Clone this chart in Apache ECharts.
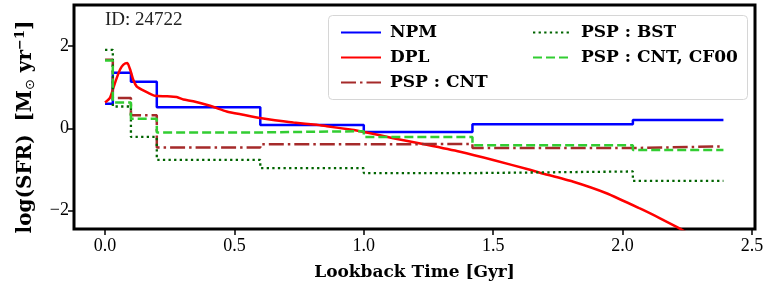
<!DOCTYPE html>
<html>
<head>
<meta charset="utf-8">
<script src="https://cdn.jsdelivr.net/npm/echarts@6/dist/echarts.min.js"></script>
<style>html,body{margin:0;padding:0;background:#fff}#c{width:773px;height:292px}</style>
</head>
<body>
<div id="c"></div>
<script>
// Bin edges (Gyr) for the step-like SFHs
const binEdges = [0, 0.03, 0.1, 0.2, 0.6, 1.0, 1.42, 2.04, 2.39];
const npmVals  = [0.60, 1.35, 1.13, 0.51, 0.08, -0.09, 0.10, 0.20];
const cntVals  = [1.67, 0.74, 0.32, -0.47, -0.39, -0.38, -0.48, -0.44];
const bstVals  = [1.91, 0.53, -0.21, -0.77, -0.97, -1.09, -1.05, -1.28];
const cf00Vals = [1.65, 0.63, 0.23, -0.10, -0.07, -0.21, -0.41, -0.53];
// DPL continuous curve
const dplT = [0, 0.019, 0.032, 0.045, 0.058, 0.071, 0.086, 0.097, 0.109, 0.122, 0.142, 0.167, 0.193, 0.238, 0.277, 0.303, 0.341, 0.406, 0.432, 0.47, 0.534, 0.599, 0.689, 0.728, 0.818, 0.857, 0.947, 0.985, 1.011, 1.114, 1.243, 1.372, 1.5, 1.642, 1.681, 1.81, 1.938, 2.067, 2.145, 2.209, 2.25, 2.3];
const dplV = [0.63, 0.74, 0.98, 1.22, 1.43, 1.55, 1.59, 1.43, 1.18, 1.02, 0.94, 0.86, 0.79, 0.78, 0.76, 0.70, 0.66, 0.55, 0.49, 0.41, 0.33, 0.25, 0.17, 0.14, 0.085, 0.05, -0.03, -0.07, -0.10, -0.24, -0.40, -0.57, -0.77, -1.01, -1.08, -1.30, -1.58, -1.95, -2.19, -2.40, -2.55, -2.8];
const xTicks = [0, 0.5, 1.0, 1.5, 2.0, 2.5];
const yTicks = [-2, 0, 2];
const seriesNames = ['NPM', 'DPL', 'PSP : CNT', 'PSP : BST', 'PSP : CNT, CF00'];

function stepData(vals) {
  const d = vals.map((v, i) => [binEdges[i], v]);
  d.push([binEdges[binEdges.length - 1], vals[vals.length - 1]]);
  return d;
}
const dplData = dplT.map((t, i) => [t, dplV[i]]);

const FONT = 'Liberation Serif';
const BFONT = 'DejaVu Serif';
const chart = echarts.init(document.getElementById('c'), null, {renderer: 'canvas'});
const lineBase = {type: 'line', symbol: 'none', showSymbol: false, animation: false, clip: true};
const legendText = {fontFamily: BFONT, fontSize: 17, fontWeight: 'bold', color: '#000'};

chart.setOption({
  animation: false,
  grid: {left: 74, top: 5, right: 18, bottom: 63, show: true, borderColor: '#000', borderWidth: 3, backgroundColor: 'transparent'},
  xAxis: {
    type: 'value', min: -0.12, max: 2.512,
    name: 'Lookback Time [Gyr]', nameLocation: 'middle', nameGap: 35,
    nameTextStyle: {fontFamily: BFONT, fontSize: 17, fontWeight: 'bold', color: '#000'},
    axisLine: {show: false, onZero: false},
    splitLine: {show: false},
    axisTick: {show: true, length: 6, customValues: xTicks, lineStyle: {color: '#000', width: 1.5}},
    axisLabel: {customValues: xTicks, margin: 8, fontFamily: FONT, fontSize: 18, color: '#000', formatter: v => v.toFixed(1)}
  },
  yAxis: {
    type: 'value', min: -2.45, max: 3.0,
    name: '{b|log(SFR)}  {b|[M}{sub|⊙}{b| yr}{sup|−1}{b|]}', nameLocation: 'middle', nameGap: 36, nameRotate: 90,
    nameTextStyle: {
      fontFamily: BFONT, fontSize: 20, color: '#000', padding: [0, 20, 0, 0],
      rich: {
        b: {fontFamily: BFONT, fontSize: 20, fontWeight: 'bold', color: '#000'},
        sub: {fontFamily: 'DejaVu Sans', fontSize: 13, color: '#000', padding: [9, 0, 0, 0]},
        sup: {fontFamily: BFONT, fontSize: 13, fontWeight: 'bold', color: '#000', padding: [0, 0, 11, 0]}
      }
    },
    axisLine: {show: false, onZero: false},
    splitLine: {show: false},
    axisTick: {show: true, length: 6, customValues: yTicks, lineStyle: {color: '#000', width: 1.5}},
    axisLabel: {customValues: yTicks, margin: 5, fontFamily: FONT, fontSize: 18, color: '#000', formatter: v => (v < 0 ? '\u2212' + Math.abs(v) : String(v))}
  },
  legend: [
    {
      orient: 'vertical', left: 335, top: 19, itemWidth: 40, itemHeight: 12, itemGap: 8,
      data: [seriesNames[0], seriesNames[1], seriesNames[2]],
      itemStyle: {opacity: 0},
      textStyle: Object.assign({padding: [0, 0, 0, 4]}, legendText)
    },
    {
      orient: 'vertical', left: 527, top: 19, itemWidth: 36, itemHeight: 12, itemGap: 8,
      data: [seriesNames[3], seriesNames[4]],
      itemStyle: {opacity: 0},
      textStyle: Object.assign({padding: [0, 0, 0, 7]}, legendText)
    }
  ],
  graphic: [
    {type: 'rect', left: 328, top: 15, shape: {width: 419, height: 84, r: 4}, style: {fill: 'rgba(255,255,255,0.8)', stroke: '#d6d6d6', lineWidth: 1}, z: 1},
    {type: 'text', left: 105, top: 11, style: {text: 'ID: 24722', font: '19px "Liberation Serif"', fill: '#222'}, z: 10}
  ],
  series: [
    Object.assign({}, lineBase, {name: seriesNames[0], step: 'end', data: stepData(npmVals), lineStyle: {color: '#0000ff', width: 2.5}, itemStyle: {color: '#0000ff'}}),
    Object.assign({}, lineBase, {name: seriesNames[1], smooth: 0.2, data: dplData, lineStyle: {color: '#ff0000', width: 2.5}, itemStyle: {color: '#ff0000'}}),
    Object.assign({}, lineBase, {name: seriesNames[2], step: 'end', data: stepData(cntVals), lineStyle: {color: '#a52a2a', width: 2.5, type: [15, 4, 2.5, 4]}, itemStyle: {color: '#a52a2a'}}),
    Object.assign({}, lineBase, {name: seriesNames[3], step: 'end', data: stepData(bstVals), lineStyle: {color: '#006400', width: 2.3, type: [2.3, 3.3]}, itemStyle: {color: '#006400'}}),
    Object.assign({}, lineBase, {name: seriesNames[4], step: 'end', data: stepData(cf00Vals), lineStyle: {color: '#32cd32', width: 2.5, type: [9, 4]}, itemStyle: {color: '#32cd32'}})
  ]
});
</script>
</body>
</html>
